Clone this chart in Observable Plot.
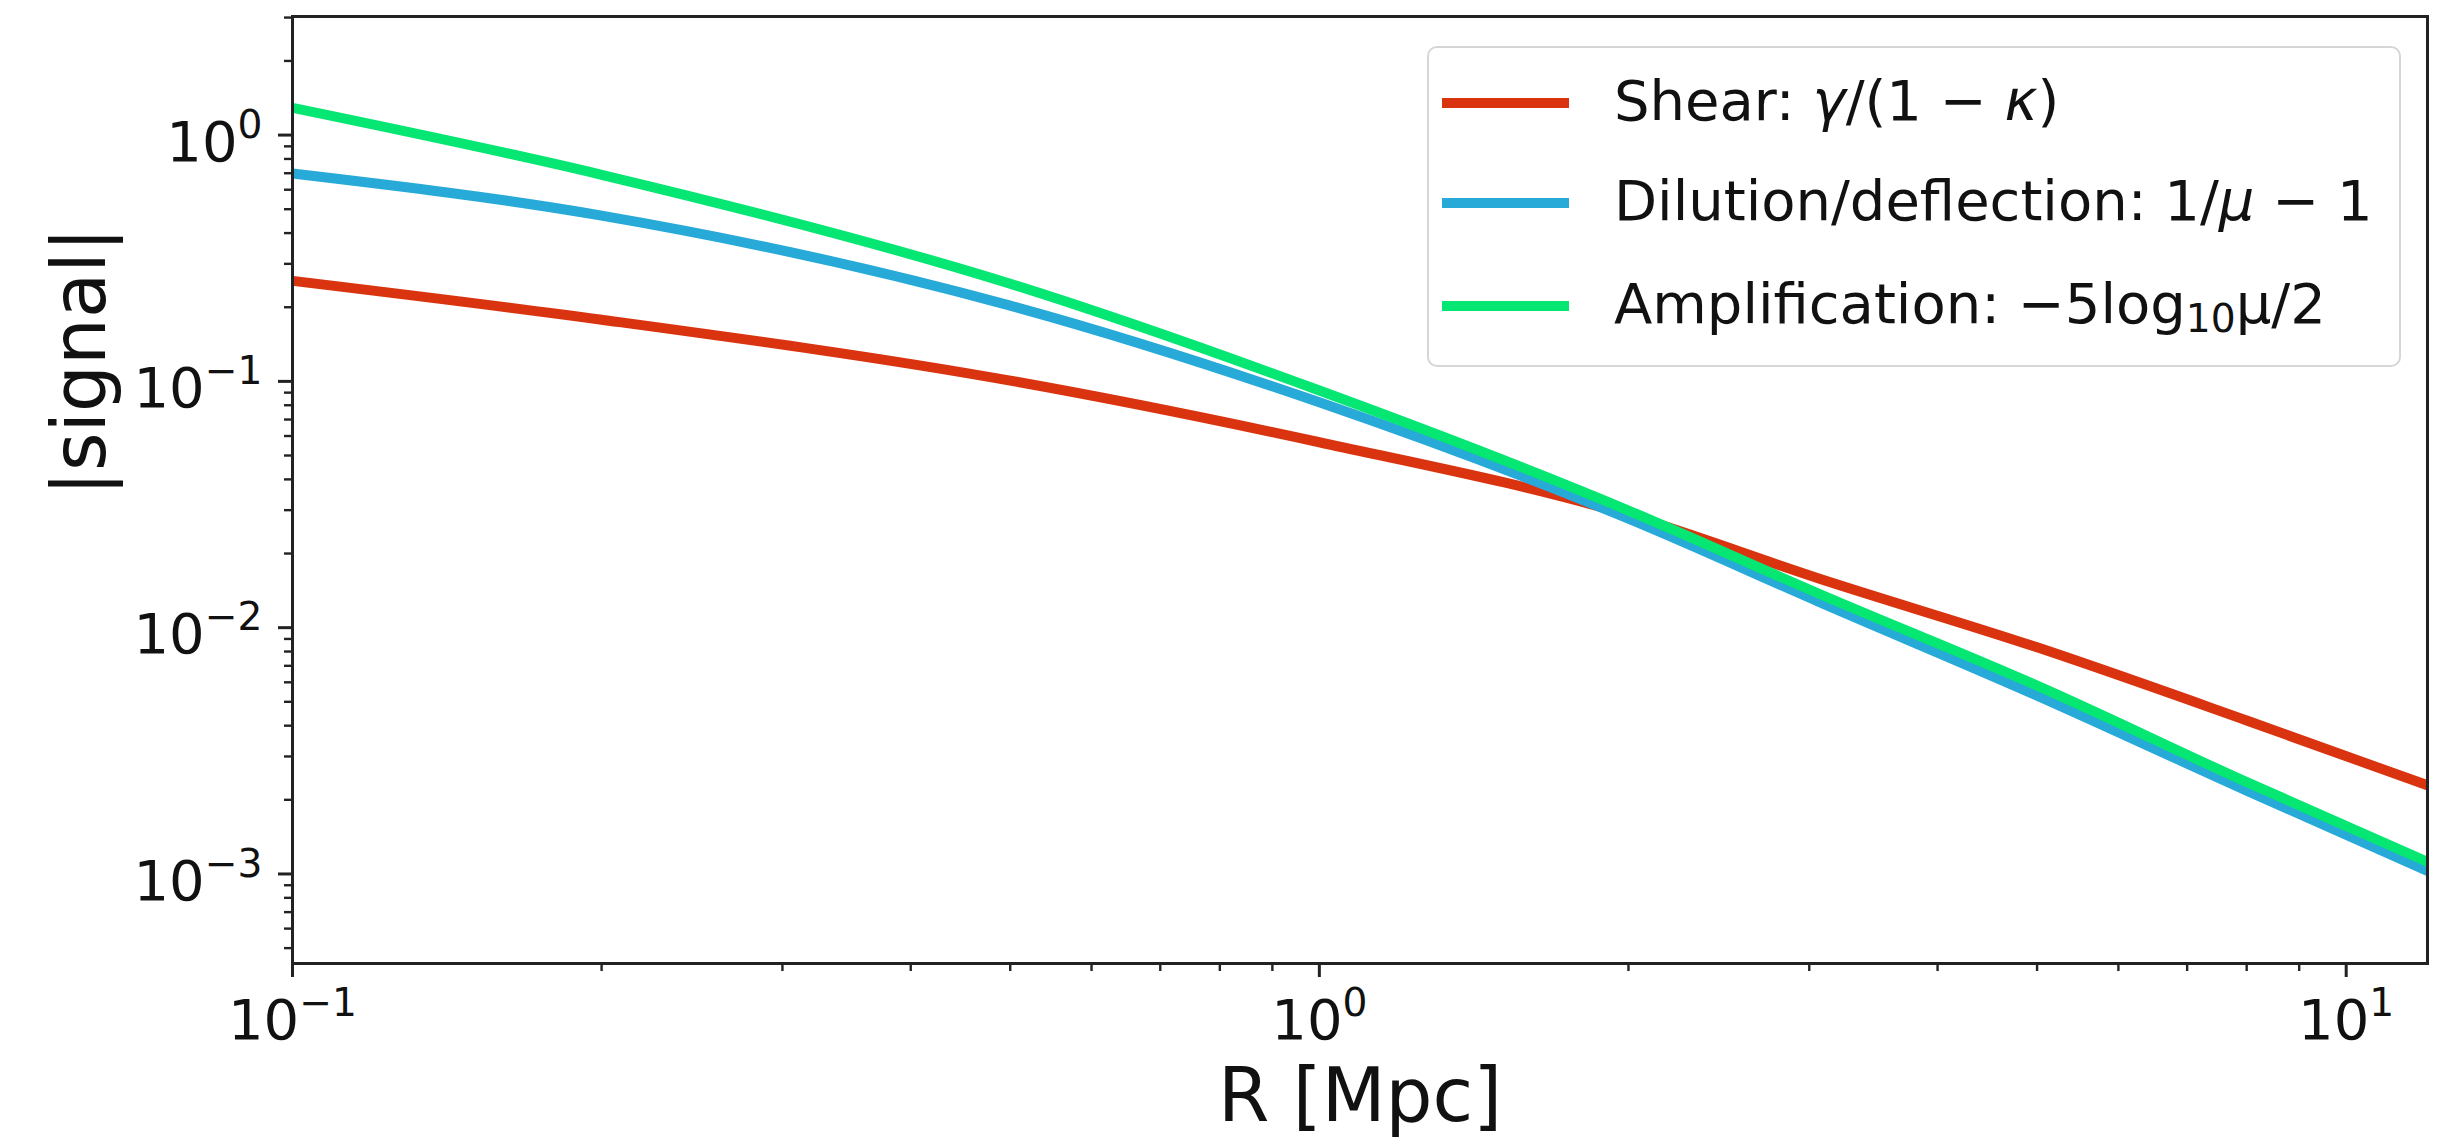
<!DOCTYPE html>
<html>
<head>
<meta charset="utf-8">
<script src="https://cdn.jsdelivr.net/npm/d3@7"></script>
<script src="https://cdn.jsdelivr.net/npm/@observablehq/plot@0.6"></script>
<style>
  html, body { margin: 0; padding: 0; background: #fff; }
  #wrap { position: relative; width: 2464px; height: 1146px; font-family: "DejaVu Sans", sans-serif; }
  #legend {
    position: absolute; left: 1427px; top: 46px; width: 974px; height: 321px;
    box-sizing: border-box; border: 2px solid #d6d6d6; border-radius: 10px;
    background: rgba(255,255,255,0.85); font-family: "DejaVu Sans", sans-serif; font-size: 56px; color: #111;
  }
  .row { position: absolute; left: 0; width: 100%; height: 0; }
  .sw { position: absolute; left: 13px; width: 127px; height: 10px; }
  .lbl { position: absolute; left: 185px; line-height: 1; white-space: nowrap; }
  .lbl i { font-style: italic; }
  .lbl sub { font-size: 0.7em; vertical-align: -0.22em; line-height: 0; }
</style>
</head>
<body>
<div id="wrap"></div>
<script>
// ---- data ----
const R            = [0.1,   0.2,   0.5,    1.0,    2.0,    3.07,   5.0,     8.0,     12.0];
const shear        = [0.256, 0.178, 0.1007, 0.0566, 0.0287, 0.0158, 0.00832, 0.00420, 0.00229];
const dilution     = [0.698, 0.471, 0.203,  0.0822, 0.0277, 0.0127, 0.00530, 0.00218, 0.00103];
const amplification= [1.29,  0.69,  0.249,  0.0918, 0.0299, 0.0137, 0.00582, 0.00236, 0.00112];

const seriesNames  = ["Shear", "Dilution/deflection", "Amplification"];
const seriesColors = ["#da3310", "#27aad8", "#05e672"];

const xMajor = [0.1, 1, 10];
const yMajor = [1e-3, 1e-2, 1e-1, 1];
const xDomain = [0.1, 12];
const yDomain = [4.33e-4, 3.03];

// ---- build tables ----
const seriesValues = [shear, dilution, amplification];
const rows = [];
seriesValues.forEach((vals, s) => vals.forEach((v, i) => rows.push({series: seriesNames[s], R: R[i], v})));

const inside = (v, d) => v >= d[0] * 0.9999 && v <= d[1] * 1.0001;
const minorOf = (d) => {
  const out = [];
  for (let e = -5; e <= 2; e++) for (let k = 2; k <= 9; k++) {
    const v = k * Math.pow(10, e);
    if (inside(v, d)) out.push(v);
  }
  return out;
};
const xMinor = minorOf(xDomain);
const yMinor = minorOf(yDomain);
const expFmt = (v) => "10^" + Math.round(Math.log10(v));

const TICK_FS = 56;
const font = "DejaVu Sans";
const plot = Plot.plot({
  width: 2464, height: 1146,
  marginLeft: 292, marginRight: 37, marginTop: 16, marginBottom: 183,
  style: {fontFamily: font, background: "#fff", color: "#222"},
  x: {type: "log", domain: xDomain},
  y: {type: "log", domain: yDomain},
  marks: [
    Plot.axisX({ticks: xMinor, tickSize: 8, strokeWidth: 2.4, tickFormat: () => "", label: null}),
    Plot.axisY({ticks: yMinor, tickSize: 8, strokeWidth: 2.4, tickFormat: () => "", label: null}),
    Plot.axisX({ticks: xMajor, tickSize: 14, tickPadding: 14, strokeWidth: 3, tickFormat: expFmt, fontSize: TICK_FS, label: null}),
    Plot.axisY({ticks: yMajor, tickSize: 14, tickPadding: 16, strokeWidth: 3, tickFormat: expFmt, fontSize: TICK_FS, label: null}),
    ...seriesNames.map((name, s) =>
      Plot.line(rows.filter(d => d.series === name), {
        x: "R", y: "v", stroke: seriesColors[s], strokeWidth: 10, curve: "monotone-x", clip: true
      })
    ),
    Plot.frame({stroke: "#222", strokeWidth: 3}),
    Plot.text(["R [Mpc]"], {text: d => d, frameAnchor: "bottom", dy: 157, fontSize: 74, fill: "#111"}),
    Plot.text(["|signal|"], {text: d => d, frameAnchor: "left", dx: -211, dy: 6, rotate: -90, fontSize: 74, fill: "#111"})
  ]
});

// superscript exponents in tick labels (mathtext-like "10^n")
const SVGNS = "http://www.w3.org/2000/svg";
plot.querySelectorAll("text").forEach(t => {
  const m = /^10\^(-?\d+)$/.exec(t.textContent);
  if (!m) return;
  const isX = !!t.closest('[aria-label="x-axis tick label"]');
  t.textContent = "";
  const base = document.createElementNS(SVGNS, "tspan");
  base.textContent = "10";
  const sup = document.createElementNS(SVGNS, "tspan");
  sup.textContent = m[1].replace("-", "\u2212");
  sup.setAttribute("font-size", String(TICK_FS * 0.7));
  sup.setAttribute("dy", String(-TICK_FS * 0.41));
  t.appendChild(base); t.appendChild(sup);
  const yAttr = t.getAttribute("y");
  if (yAttr && /em$/.test(yAttr)) t.removeAttribute("y");
  t.setAttribute("dy", String(isX ? TICK_FS * 0.84 : TICK_FS * 0.46));
  t.setAttribute("fill", "#111");
});

const wrap = document.getElementById("wrap");
wrap.appendChild(plot);

// legend (inside the axes, upper right)
const legend = document.createElement("div");
legend.id = "legend";
const labels = [
  'Shear: <i>γ</i>/(1 − <i>κ</i>)',
  'Dilution/deflection: 1/<i>μ</i> − 1',
  'Amplification: −5log<sub>10</sub>μ/2'
];
const rowY = [55, 155, 258];
labels.forEach((html, i) => {
  const r = document.createElement("div");
  r.className = "row";
  r.style.top = rowY[i] + "px";
  const sw = document.createElement("div");
  sw.className = "sw";
  sw.style.background = seriesColors[i];
  sw.style.top = "-5px";
  const lb = document.createElement("div");
  lb.className = "lbl";
  lb.style.top = "-30px";
  lb.innerHTML = html;
  r.appendChild(sw); r.appendChild(lb);
  legend.appendChild(r);
});
wrap.appendChild(legend);
</script>
</body>
</html>
